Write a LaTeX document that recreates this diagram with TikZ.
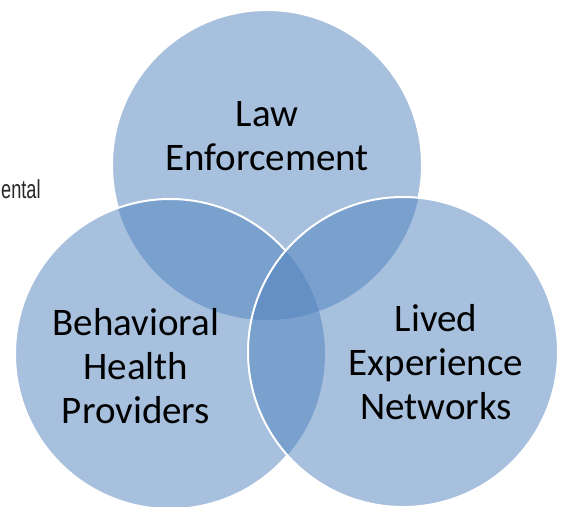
\documentclass[tikz,border=0pt]{standalone}
\usepackage{fontspec}
\setmainfont{Carlito}
\newfontfamily\narrowfont{Liberation Sans}
\definecolor{venn}{RGB}{79,129,189}
\tikzset{
  vennfill/.style={fill=venn, fill opacity=0.5},
  vennline/.style={draw=white, line width=2pt},
  lbl/.style={font=\fontsize{39}{44}\selectfont, align=center, text=black, inner sep=0pt},
}
\begin{document}
\begin{tikzpicture}[x=1pt,y=-1pt]
\useasboundingbox (0,0) rectangle (564,506);
\coordinate (T) at (267,165);
\coordinate (L) at (170,354);
\coordinate (R) at (403,352);
% fills
\fill[vennfill] (T) circle (155pt);
\fill[vennfill] (L) circle (155pt);
\fill[vennfill] (R) circle (155pt);
% outlines
\draw[vennline] (R) circle (155pt);
\begin{scope}[even odd rule]
  \clip (-60,-60) -- (640,-60) -- (640,600) -- (-60,600) -- cycle (R) circle (155pt);
  \draw[vennline] (L) circle (155pt);
\end{scope}
\begin{scope}[even odd rule]
  \clip (-60,-60) -- (640,-60) -- (640,600) -- (-60,600) -- cycle (R) circle (155pt);
  \clip (-60,-60) -- (640,-60) -- (640,600) -- (-60,600) -- cycle (L) circle (155pt);
  \draw[vennline] (T) circle (155pt);
\end{scope}
% labels
\node[lbl] (law) at (267,136) {Law\\Enforcement};
\node[lbl] (beh) at (136,366) {Behavioral\\Health\\Providers};
\node[lbl] (liv) at (436,362) {Lived\\Experience\\Networks};
\node[anchor=base west, inner sep=0pt, font=\narrowfont\fontsize{26}{30}\selectfont, text=black!85] (ental) at (1,198) {\scalebox{0.7}[1]{ental}};
\end{tikzpicture}
\end{document}
